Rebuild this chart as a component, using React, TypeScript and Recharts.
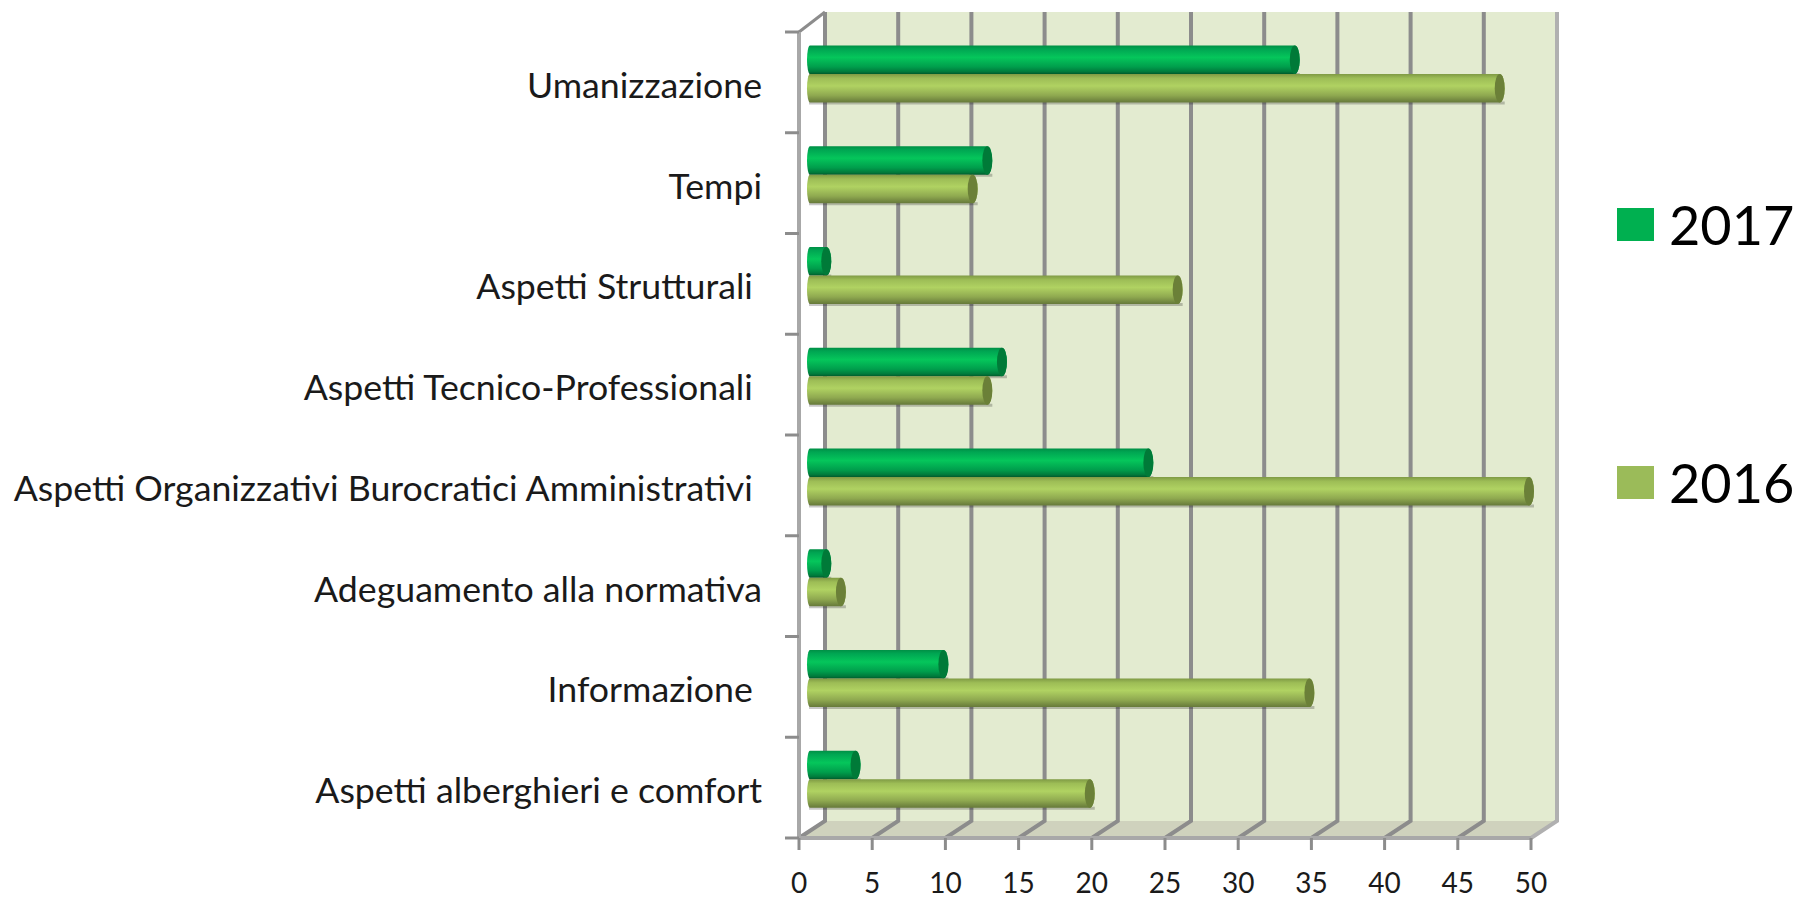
import {
  BarChart,
  Bar,
  XAxis,
  YAxis,
  CartesianGrid,
  Legend,
} from "recharts";

const categories = [
  "Umanizzazione",
  "Tempi",
  "Aspetti Strutturali ",
  "Aspetti Tecnico-Professionali ",
  "Aspetti Organizzativi Burocratici Amministrativi ",
  "Adeguamento alla normativa",
  "Informazione ",
  "Aspetti alberghieri e comfort",
];
const values2017 = [34, 13, 2, 14, 24, 2, 10, 4];
const values2016 = [48, 12, 26, 13, 50, 3, 35, 20];
const valueTicks = [0, 5, 10, 15, 20, 25, 30, 35, 40, 45, 50];

const chartData = categories.map((name, i) => ({
  name,
  y2017: values2017[i],
  y2016: values2016[i],
}));

const WIDTH = 1798;
const HEIGHT = 900;
const Y_AXIS_WIDTH = 799;
const MARGIN = { top: 32, right: 267, bottom: 0, left: 0 };
const X_AXIS_HEIGHT = 62;
const PLOT_WIDTH = WIDTH - MARGIN.right - Y_AXIS_WIDTH;
const BAND = (HEIGHT - MARGIN.top - X_AXIS_HEIGHT) / categories.length;

// 3D look: the back wall sits up and to the right of the front axes
const DEPTH_X = 26;
const DEPTH_TOP = 20;
const DEPTH_BOTTOM = 17;
const AXIS_GREY = "#8c8c8c";
const FONT = "Lato, sans-serif";

// first grid line also paints the wall and floor so the rest sit on top
function GridLine({ x1, y1, y2, index }: any) {
  const last = index === valueTicks.length - 1;
  const backX = x1 + DEPTH_X;
  return (
    <g key={index}>
      {index === 0 && (
        <>
          <rect
            x={backX}
            y={y1 - DEPTH_TOP}
            width={PLOT_WIDTH}
            height={y2 - y1 + DEPTH_TOP - DEPTH_BOTTOM}
            fill="#e3ebd0"
          />
          <polygon
            points={`${x1},${y2} ${backX},${y2 - DEPTH_BOTTOM} ${backX + PLOT_WIDTH},${y2 - DEPTH_BOTTOM} ${x1 + PLOT_WIDTH},${y2}`}
            fill="#cfd2bd"
          />
          <line x1={x1} y1={y1} x2={backX} y2={y1 - DEPTH_TOP} stroke={AXIS_GREY} strokeWidth={3} />
        </>
      )}
      <path
        d={`M${backX},${y1 - DEPTH_TOP} L${backX},${y2 - DEPTH_BOTTOM} L${x1},${y2}`}
        fill="none"
        stroke={last ? "#b0b0b0" : AXIS_GREY}
        strokeWidth={4}
      />
    </g>
  );
}

function Cylinder({ x, y, width, height, fill, capFill }: any) {
  const rx = 5;
  const left = x + 8;
  const right = left + width - 5;
  const top = y - 8.5;
  const ry = height / 2;
  const bodyEnd = right - rx;
  return (
    <g>
      <rect x={left + 2} y={top + height - 1} width={width - 7} height={3} fill="#000" opacity={0.22} />
      <path
        d={`M${left + 3},${top} L${bodyEnd},${top} A${rx},${ry} 0 0 1 ${bodyEnd},${top + height} L${left + 3},${top + height} A3,${ry} 0 0 1 ${left + 3},${top} Z`}
        fill={fill}
      />
      <ellipse cx={bodyEnd} cy={top + ry} rx={rx} ry={ry} fill={capFill} />
    </g>
  );
}

function CategoryTick({ y, payload, index }: any) {
  const axisX = Y_AXIS_WIDTH;
  return (
    <g>
      <line x1={axisX - 14} y1={y - BAND / 2} x2={axisX} y2={y - BAND / 2} stroke={AXIS_GREY} strokeWidth={3} />
      {index === categories.length - 1 && (
        <line x1={axisX - 14} y1={y + BAND / 2} x2={axisX} y2={y + BAND / 2} stroke={AXIS_GREY} strokeWidth={3} />
      )}
      <text
        x={762}
        y={y + 6.5}
        textAnchor="end"
        dominantBaseline="middle"
        fontFamily={FONT}
        fontSize={35.7}
        fill="#1a1a1a"
        style={{ whiteSpace: "pre" }}
      >
        {payload.value}
      </text>
    </g>
  );
}

function LegendBlock() {
  const items = [
    { label: "2017", color: "#00b050", top: 0 },
    { label: "2016", color: "#9bbb59", top: 258 },
  ];
  return (
    <div style={{ position: "absolute", left: 0, top: 0 }}>
      {items.map((item) => (
        <div key={item.label} style={{ position: "absolute", left: 0, top: item.top, height: 40 }}>
          <span
            style={{
              position: "absolute",
              left: 0,
              top: 4,
              width: 37,
              height: 33,
              background: item.color,
            }}
          />
          <span
            style={{
              position: "absolute",
              left: 52,
              top: -12,
              fontFamily: FONT,
              fontSize: 54,
              lineHeight: "66px",
              color: "#000",
            }}
          >
            {item.label}
          </span>
        </div>
      ))}
    </div>
  );
}

export default function App() {
  return (
    <div style={{ position: "absolute", left: 0, top: 0, width: WIDTH, height: HEIGHT, background: "#fff" }}>
      <BarChart
        width={WIDTH}
        height={HEIGHT}
        data={chartData}
        layout="vertical"
        margin={MARGIN}
        barSize={28.5}
        barGap={0}
        style={{ overflow: "visible" }}
      >
        <defs>
          <linearGradient id="tube2017" x1="0" y1="0" x2="0" y2="1">
            <stop offset="0" stopColor="#008f45" />
            <stop offset="0.12" stopColor="#00a552" />
            <stop offset="0.42" stopColor="#05c65b" />
            <stop offset="0.75" stopColor="#009e4c" />
            <stop offset="0.92" stopColor="#007a3b" />
            <stop offset="1" stopColor="#005a2c" />
          </linearGradient>
          <linearGradient id="tube2016" x1="0" y1="0" x2="0" y2="1">
            <stop offset="0" stopColor="#7f9a44" />
            <stop offset="0.15" stopColor="#9dbd56" />
            <stop offset="0.42" stopColor="#b0d262" />
            <stop offset="0.75" stopColor="#8fa950" />
            <stop offset="1" stopColor="#66793a" />
          </linearGradient>
        </defs>
        <CartesianGrid horizontal={false} vertical={(props: any) => <GridLine {...props} />} />
        <XAxis
          type="number"
          domain={[0, 50]}
          ticks={valueTicks}
          interval={0}
          height={X_AXIS_HEIGHT}
          stroke="#a8a8a8"
          strokeWidth={4}
          tickSize={12}
          tickMargin={23}
          tickLine={{ stroke: AXIS_GREY, strokeWidth: 3 }}
          tick={{ fontFamily: FONT, fontSize: 28, fill: "#1a1a1a" }}
        />
        <YAxis
          type="category"
          dataKey="name"
          width={Y_AXIS_WIDTH}
          interval={0}
          stroke="#a8a8a8"
          strokeWidth={4}
          tickLine={false}
          tickSize={0}
          tick={<CategoryTick />}
        />
        <Bar
          dataKey="y2017"
          name="2017"
          fill="#00b050"
          isAnimationActive={false}
          shape={<Cylinder fill="url(#tube2017)" capFill="#007a38" />}
        />
        <Bar
          dataKey="y2016"
          name="2016"
          fill="#9bbb59"
          isAnimationActive={false}
          shape={<Cylinder fill="url(#tube2016)" capFill="#6b8038" />}
        />
        <Legend
          layout="vertical"
          align="right"
          verticalAlign="top"
          content={<LegendBlock />}
          wrapperStyle={{ position: "absolute", left: 1617, top: 204, width: 0, height: 0, right: "auto", bottom: "auto" }}
        />
      </BarChart>
    </div>
  );
}
